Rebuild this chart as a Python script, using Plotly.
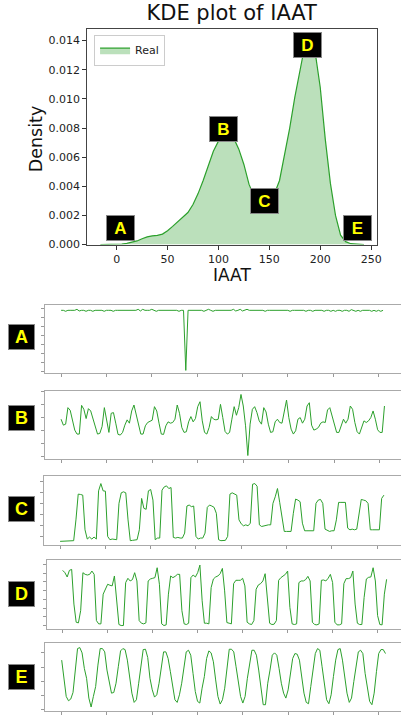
import plotly.graph_objects as go

W, H = 405, 719

# ---------------- KDE data ----------------
kde_x = [-16, -10, -5, 0, 5, 10, 15, 20, 25, 30, 35, 40, 45, 50, 55, 60, 65, 70, 75, 80,
         85, 90, 95, 100, 105, 110, 115, 120, 125, 130, 135, 140, 145, 150, 155, 160,
         165, 170, 175, 180, 185, 190, 195, 200, 205, 210, 215, 220, 225, 230, 235, 243]
kde_density = [0.0, 0.000005, 0.00001, 0.00002, 0.00004, 0.00008, 0.00014, 0.00025, 0.00040,
               0.00053, 0.00060, 0.00063, 0.00072, 0.00095, 0.00125, 0.00155, 0.00185, 0.00220,
               0.00275, 0.00350, 0.00440, 0.00540, 0.00640, 0.00710, 0.00750, 0.00760, 0.00730,
               0.00655, 0.00550, 0.00415, 0.00330, 0.00290, 0.00285, 0.00305, 0.00350, 0.00440,
               0.00620, 0.00800, 0.01010, 0.01200, 0.01370, 0.01410, 0.01320, 0.01080, 0.00720,
               0.00420, 0.00200, 0.00065, 0.00020, 0.00006, 0.00002, 0.0]
kde_xticks = [0, 50, 100, 150, 200, 250]
kde_yticks = [0.0, 0.002, 0.004, 0.006, 0.008, 0.010, 0.012, 0.014]

region_names = ["A", "B", "C", "D", "E"]
region_iaat = [3.4, 105, 145, 187.7, 237]
region_density = [0.00116, 0.00795, 0.00299, 0.01373, 0.00116]

# ---------------- time series per region ----------------
series_A = [190, 190, 187, 190, 190, 190, 190, 193, 188, 190,
            190, 187, 190, 190, 187, 190, 190, 190, 190, 187,
            190, 190, 190, 187, 190, 190, 190, 190, 190, 190,
            190, 190, 190, 190, 193, 188, 193, 190, 190, 190,
            193, 190, 187, 190, 190, 190, 190, 190, 190, 190,
            190, 190, 187, 190, 190, 8, 190, 190, 190, 190,
            190, 190, 190, 187, 190, 193, 190, 187, 190, 190,
            190, 190, 190, 190, 190, 190, 193, 188, 190, 193,
            188, 190, 193, 190, 190, 190, 190, 190, 190, 190,
            187, 190, 190, 190, 190, 190, 190, 190, 190, 190,
            190, 187, 190, 190, 190, 190, 190, 190, 187, 190,
            190, 187, 190, 190, 190, 190, 187, 190, 190, 187,
            190, 187, 190, 190, 187, 190, 190, 187, 192, 190,
            187, 190, 187, 190, 190, 190, 190, 187, 190, 187,
            190, 187, 190]

series_B = [122, 104, 107, 157, 149, 114, 89, 77, 77, 164,
            152, 124, 154, 147, 122, 97, 77, 79, 100, 157,
            117, 82, 140, 142, 110, 76, 74, 82, 104, 120,
            110, 147, 165, 137, 104, 77, 77, 102, 112, 116,
            119, 160, 147, 110, 77, 76, 102, 114, 110, 112,
            122, 165, 140, 97, 82, 84, 114, 130, 114, 124,
            160, 175, 117, 82, 77, 97, 130, 122, 120, 122,
            167, 127, 85, 77, 82, 122, 160, 134, 157, 197,
            162, 102, 12, 107, 152, 160, 142, 117, 107, 157,
            144, 107, 82, 84, 114, 122, 112, 110, 152, 180,
            127, 92, 77, 87, 122, 127, 110, 122, 162, 172,
            104, 89, 92, 97, 110, 114, 112, 150, 157, 130,
            100, 82, 82, 104, 122, 110, 122, 162, 152, 112,
            84, 77, 94, 117, 112, 117, 127, 147, 122, 90,
            82, 82, 162]

series_C = [10, 10, 10, 10, 10, 10, 12, 75, 153, 152,
            150, 45, 17, 23, 17, 23, 17, 163, 185, 163,
            162, 25, 15, 17, 15, 15, 125, 157, 160, 157,
            75, 12, 13, 13, 15, 45, 140, 110, 107, 163,
            167, 135, 15, 20, 20, 165, 175, 178, 170, 173,
            22, 20, 22, 20, 20, 35, 117, 120, 115, 117,
            25, 17, 20, 20, 35, 113, 120, 117, 113, 95,
            15, 12, 13, 13, 25, 153, 157, 153, 150, 75,
            63, 57, 60, 57, 65, 183, 185, 177, 60, 55,
            57, 57, 60, 60, 125, 145, 170, 127, 75, 40,
            40, 40, 40, 95, 138, 135, 130, 65, 42, 42,
            42, 40, 42, 125, 135, 137, 125, 47, 43, 40,
            42, 42, 75, 128, 128, 128, 128, 50, 45, 47,
            45, 47, 95, 137, 135, 133, 125, 45, 45, 45,
            43, 45, 140, 150]

series_D = [177, 170, 157, 177, 180, 75, 20, 18, 55, 170,
            165, 163, 165, 175, 165, 25, 15, 15, 105, 120,
            135, 132, 130, 160, 85, 13, 10, 10, 140, 153,
            145, 149, 170, 145, 25, 17, 15, 18, 145, 151,
            153, 155, 185, 135, 15, 10, 12, 105, 160, 155,
            159, 165, 165, 55, 15, 13, 17, 155, 163, 157,
            170, 193, 85, 17, 17, 15, 125, 151, 157, 160,
            167, 183, 115, 19, 17, 15, 137, 147, 147, 147,
            153, 130, 20, 15, 13, 25, 120, 133, 137, 145,
            167, 85, 17, 13, 14, 25, 147, 155, 159, 165,
            175, 65, 15, 13, 15, 140, 145, 145, 149, 159,
            145, 20, 13, 12, 15, 147, 148, 145, 153, 165,
            140, 20, 12, 12, 15, 137, 152, 152, 155, 175,
            75, 17, 13, 13, 95, 151, 156, 157, 185, 145,
            40, 13, 12, 105, 150]

series_E = [155, 95, 45, 32, 37, 57, 125, 190, 193, 177,
            130, 100, 40, 13, 45, 75, 140, 190, 190, 180,
            125, 85, 55, 57, 85, 135, 183, 190, 187, 155,
            105, 55, 27, 35, 85, 135, 187, 188, 163, 100,
            65, 43, 50, 85, 135, 180, 180, 160, 120, 70,
            35, 27, 50, 85, 135, 180, 185, 170, 115, 60,
            30, 25, 70, 105, 160, 183, 177, 150, 95, 45,
            22, 35, 70, 130, 188, 188, 180, 135, 90, 45,
            25, 45, 100, 145, 185, 185, 170, 125, 70, 20,
            20, 85, 125, 170, 177, 170, 130, 85, 55, 40,
            65, 115, 160, 175, 173, 155, 105, 55, 27, 23,
            75, 125, 175, 190, 185, 135, 75, 35, 23, 50,
            105, 155, 187, 190, 155, 105, 55, 27, 40, 90,
            140, 180, 185, 175, 115, 65, 30, 20, 55, 120,
            175, 187, 187, 175]

series_list = [series_A, series_B, series_C, series_D, series_E]
time_ticks = [0, 20, 40, 60, 80, 100, 120, 140]
level_tick0 = [5, 10, 25, 10, 5]
level_dtick = [27.4, 39, 33.4, 26.4, 43]

# ---------------- geometry (pixels) ----------------
top_box = dict(l=88, r=381, t=29, b=247)
panel_geom = [  # left, top, bottom, first-sample px, px per sample, label center y
    dict(l=45.0, t=307.7, b=376.7, x0=61.7, s=2.29, ly=340.0),
    dict(l=45.7, t=395.0, b=464.0, x0=61.7, s=2.30, ly=422.0),
    dict(l=44.3, t=481.0, b=550.0, x0=60.7, s=2.287, ly=514.5),
    dict(l=47.7, t=566.0, b=635.0, x0=63.3, s=2.272, ly=599.5),
    dict(l=45.7, t=649.3, b=718.3, x0=62.3, s=2.287, ly=683.5),
]

GREEN = "#2ca02c"
FONT = "DejaVu Sans"
BOXFONT = "Liberation Sans, Arial, sans-serif"

fig = go.Figure()
fig.add_trace(go.Scatter(
    x=kde_x, y=kde_density, mode="lines", fill="tozeroy", name="Real",
    line=dict(color=GREEN, width=1.2), fillcolor="rgba(44,160,44,0.32)",
    xaxis="x", yaxis="y", showlegend=True))

layout = dict(
    width=W, height=H, autosize=False,
    margin=dict(l=0, r=0, t=0, b=0),
    paper_bgcolor="white", plot_bgcolor="white",
    title=dict(text="KDE plot of IAAT", x=234 / W, y=1 - 13 / H, xanchor="center",
               yanchor="middle", xref="paper", yref="paper",
               font=dict(family=FONT, size=21, color="#111")),
    legend=dict(x=95 / W, y=1 - 35 / H, xanchor="left", yanchor="top",
                bgcolor="white", bordercolor="#cccccc", borderwidth=1,
                font=dict(family=FONT, size=11, color="#222"), itemwidth=30,
                tracegroupgap=0),
    xaxis=dict(domain=[top_box["l"] / W, top_box["r"] / W], range=[-29, 256],
               tickvals=kde_xticks, ticks="outside", ticklen=4, tickwidth=1,
               tickcolor="#333", tickfont=dict(family=FONT, size=11, color="#222"),
               showline=True, linecolor="#444", linewidth=1, mirror=True,
               showgrid=False, zeroline=False, anchor="y"),
    yaxis=dict(domain=[1 - top_box["b"] / H, 1 - top_box["t"] / H], range=[0, 0.014815],
               tickvals=kde_yticks, tickformat=".3f", ticks="outside", ticklen=4,
               tickwidth=1, tickcolor="#333",
               tickfont=dict(family=FONT, size=11, color="#222"),
               showline=True, linecolor="#444", linewidth=1, mirror=True,
               showgrid=False, zeroline=False, anchor="x"),
)

annotations = [
    dict(text="IAAT", x=234.5 / W, y=1 - 277.5 / H, xref="paper", yref="paper",
         showarrow=False, xanchor="center", yanchor="middle",
         font=dict(family=FONT, size=17, color="#111")),
    dict(text="Density", x=36 / W, y=1 - 140 / H, xref="paper", yref="paper",
         showarrow=False, xanchor="center", yanchor="middle", textangle=-90,
         font=dict(family=FONT, size=17.5, color="#111")),
]

for name, xv, yv in zip(region_names, region_iaat, region_density):
    annotations.append(dict(
        text="<b>%s</b>" % name, x=xv, y=yv, xref="x", yref="y", showarrow=False,
        xanchor="center", yanchor="middle", bgcolor="black", bordercolor="#888",
        borderwidth=1, borderpad=0, width=27, height=24,
        font=dict(family=BOXFONT, size=17, color="#ffff00")))

for k, (name, vals, g) in enumerate(zip(region_names, series_list, panel_geom)):
    n = k + 2
    fig.add_trace(go.Scatter(
        x=list(range(len(vals))), y=vals, mode="lines",
        line=dict(color=GREEN, width=1), xaxis="x%d" % n, yaxis="y%d" % n,
        showlegend=False, name=name))
    layout["xaxis%d" % n] = dict(
        domain=[g["l"] / W, 1.0],
        range=[(g["l"] - g["x0"]) / g["s"], (W - g["x0"]) / g["s"]],
        tickvals=time_ticks, ticks="outside", ticklen=3, tickwidth=1, tickcolor="#999",
        showticklabels=False, showline=True, linecolor="#aaaaaa", linewidth=1,
        mirror=True, showgrid=False, zeroline=False, anchor="y%d" % n)
    layout["yaxis%d" % n] = dict(
        domain=[1 - g["b"] / H, 1 - g["t"] / H], range=[0, 207],
        tick0=level_tick0[k], dtick=level_dtick[k], ticks="outside", ticklen=3,
        tickwidth=1, tickcolor="#999", showticklabels=False, showline=True,
        linecolor="#aaaaaa", linewidth=1, mirror=False, showgrid=False,
        zeroline=False, anchor="x%d" % n)
    annotations.append(dict(
        text="<b>%s</b>" % name, x=22 / W, y=1 - g["ly"] / H, xref="paper", yref="paper",
        showarrow=False, xanchor="center", yanchor="middle", bgcolor="black",
        bordercolor="#888", borderwidth=1, borderpad=0, width=25, height=24,
        font=dict(family=BOXFONT, size=18, color="#ffff00")))

layout["annotations"] = annotations
fig.update_layout(**layout)
fig.write_html(
    "out.html",
    config={"displayModeBar": False},
    post_script="document.body.style.margin='0px';document.body.style.overflow='hidden';",
)
